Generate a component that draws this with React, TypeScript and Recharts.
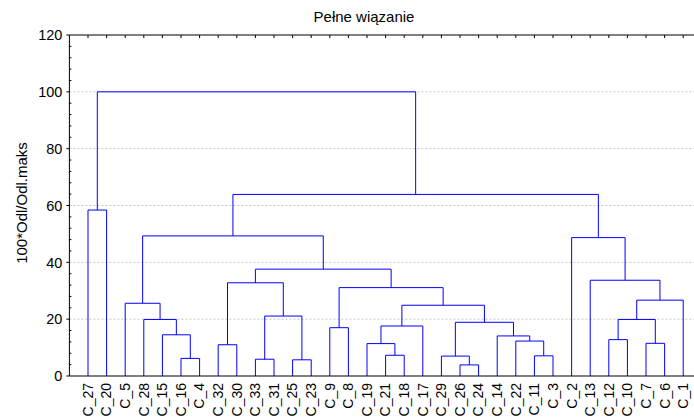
import React from "react";
import { LineChart, Line, XAxis, YAxis, ReferenceLine, Label } from "recharts";

// leaf order along the x axis
const leaves = [
    "C_27", "C_20", "C_5", "C_28", "C_15", "C_16", "C_4", "C_32", "C_30", "C_33", "C_31",
    "C_25", "C_23", "C_9", "C_8", "C_19", "C_21", "C_18", "C_17", "C_29", "C_26", "C_24",
    "C_14", "C_22", "C_11", "C_3", "C_2", "C_13", "C_12", "C_10", "C_7", "C_6", "C_1",
];

// [node id, left child, right child, linkage distance]
const merges: [string, string, string, number][] = [
    ["m1", "C_26", "C_24", 3.9],
    ["m2", "C_25", "C_23", 5.7],
    ["m3", "C_33", "C_31", 5.9],
    ["m4", "C_16", "C_4", 6.2],
    ["m5", "C_29", "m1", 7.0],
    ["m6", "C_11", "C_3", 7.1],
    ["m7", "C_21", "C_18", 7.3],
    ["m8", "C_32", "C_30", 11.0],
    ["m9", "C_19", "m7", 11.4],
    ["m10", "C_7", "C_6", 11.5],
    ["m11", "C_22", "m6", 12.3],
    ["m12", "C_12", "C_10", 12.8],
    ["m13", "C_14", "m11", 14.1],
    ["m14", "C_15", "m4", 14.5],
    ["m15", "C_9", "C_8", 17.0],
    ["m16", "m9", "C_17", 17.6],
    ["m17", "m5", "m13", 18.9],
    ["m18", "C_28", "m14", 19.9],
    ["m19", "m12", "m10", 19.9],
    ["m20", "m3", "m2", 21.1],
    ["m21", "m16", "m17", 24.9],
    ["m22", "C_5", "m18", 25.6],
    ["m23", "m19", "C_1", 26.7],
    ["m24", "m15", "m21", 31.1],
    ["m25", "m8", "m20", 32.8],
    ["m26", "C_13", "m23", 33.7],
    ["m27", "m25", "m24", 37.6],
    ["m28", "C_2", "m26", 48.7],
    ["m29", "m22", "m27", 49.3],
    ["m30", "C_27", "C_20", 58.4],
    ["m31", "m29", "m28", 63.9],
    ["m32", "m30", "m31", 100],
];

const yTicks = [0, 4, 8, 12, 16, 20, 24, 28, 32, 36, 40, 44, 48, 52, 56, 60, 64, 68, 72, 76, 80, 84, 88, 92, 96, 100, 104, 108, 112, 116, 120];
const yLabelTicks = [0, 20, 40, 60, 80, 100, 120];
const gridValues = [20, 40, 60, 80, 100];

const title = "Pełne wiązanie";
const yTitle = "100*Odl/Odl.maks";

const FONT = "'Liberation Sans', Arial, sans-serif";
const BLUE = "#0000ff";

// position/height of every node (leaves sit at 1..n, height 0)
const nodePos: Record<string, { x: number; h: number }> = {};
leaves.forEach((name, i) => {
    nodePos[name] = { x: i + 1, h: 0 };
});
const links = merges.map(([id, a, b, h]) => {
    const l = nodePos[a];
    const r = nodePos[b];
    nodePos[id] = { x: (l.x + r.x) / 2, h };
    return {
        id,
        data: [
            { x: l.x, y: l.h },
            { x: l.x, y: h },
            { x: r.x, y: h },
            { x: r.x, y: r.h },
        ],
    };
});

const leafTicks = leaves.map((_, i) => i + 1);

function LeafTick({ x, y, payload }: any) {
    return (
        <text
            x={x}
            y={y}
            transform={`rotate(-90, ${x}, ${y})`}
            textAnchor="end"
            dy="0.35em"
            fontSize={14}
            fontFamily={FONT}
            fill="#000"
        >
            {leaves[payload.value - 1]}
        </text>
    );
}

function YTick({ x, y, payload }: any) {
    const axisX = x + 7;
    if (yLabelTicks.includes(payload.value)) {
        return (
            <g>
                <line x1={axisX - 3} x2={axisX} y1={y} y2={y} stroke="#000" />
                <text x={x} y={y} dy="0.36em" textAnchor="end" fontSize={14.5} fontFamily={FONT} fill="#000">
                    {payload.value}
                </text>
            </g>
        );
    }
    return <line x1={axisX} x2={axisX + 2} y1={y} y2={y} stroke="#000" />;
}

export default function App() {
    return (
        <div style={{ position: "absolute", left: 0, top: 0, width: 694, height: 418, background: "#fff" }}>
            <LineChart width={694} height={418} margin={{ top: 0, right: 0, bottom: 0, left: 0 }}>
                <XAxis
                    xAxisId="b"
                    type="number"
                    dataKey="x"
                    domain={[0, 33.58]}
                    allowDataOverflow
                    ticks={leafTicks}
                    height={42}
                    tickSize={0}
                    tickMargin={7}
                    tickLine={false}
                    axisLine={{ stroke: "#000" }}
                    tick={<LeafTick />}
                    interval={0}
                />
                <XAxis
                    xAxisId="t"
                    orientation="top"
                    type="number"
                    dataKey="x"
                    domain={[0, 33.58]}
                    allowDataOverflow
                    ticks={leafTicks}
                    height={35}
                    tickSize={-3}
                    tickLine={{ stroke: "#000" }}
                    axisLine={{ stroke: "#000" }}
                    tick={() => <g />}
                    interval={0}
                >
                    <Label
                        content={() => (
                            <text x={364} y={22} textAnchor="middle" fontSize={15} fontFamily={FONT} fill="#000">
                                {title}
                            </text>
                        )}
                    />
                </XAxis>
                <YAxis
                    yAxisId="l"
                    type="number"
                    domain={[0, 120]}
                    ticks={yTicks}
                    interval={0}
                    width={69.4}
                    tickSize={3}
                    tickMargin={4}
                    tickLine={false}
                    axisLine={{ stroke: "#000" }}
                    tick={<YTick />}
                >
                    <Label
                        content={() => (
                            <text
                                x={22}
                                y={203}
                                transform="rotate(-90, 22, 203)"
                                textAnchor="middle"
                                dy="0.35em"
                                fontSize={15}
                                fontFamily={FONT}
                                fill="#000"
                            >
                                {yTitle}
                            </text>
                        )}
                    />
                </YAxis>
                {gridValues.map((v) => (
                    <ReferenceLine
                        key={v}
                        xAxisId="b"
                        yAxisId="l"
                        y={v}
                        stroke="#c4c4c4"
                        strokeDasharray="2 2"
                    />
                ))}
                {links.map((lk) => (
                    <Line
                        key={lk.id}
                        xAxisId="b"
                        yAxisId="l"
                        data={lk.data}
                        dataKey="y"
                        type="linear"
                        stroke={BLUE}
                        strokeWidth={1}
                        dot={false}
                        activeDot={false}
                        isAnimationActive={false}
                    />
                ))}
            </LineChart>
        </div>
    );
}
